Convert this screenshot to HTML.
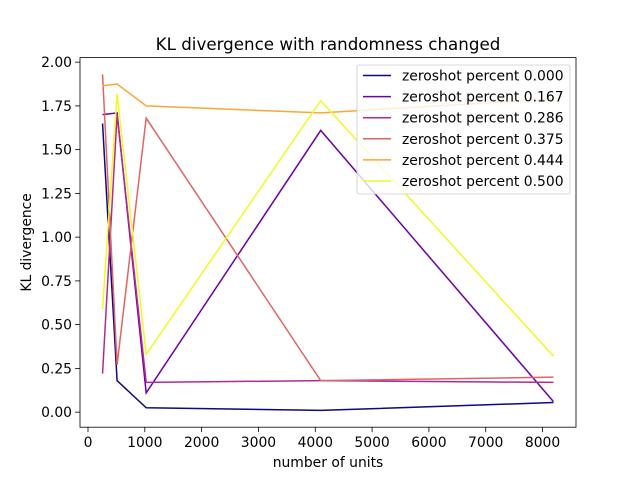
<!DOCTYPE html>
<html><head><meta charset="utf-8"><style>
body{margin:0;background:#fff;}
svg{display:block;font-family:"DejaVu Sans","Liberation Sans",sans-serif;}
</style></head><body>
<svg id="chart" width="640" height="480">
<rect x="0" y="0" width="640" height="480" fill="#fff"/>
<g id="plot"></g>
</svg>
<script>
const xValues = [256, 512, 1024, 4096, 8192];
const seriesNames = ["zeroshot percent 0.000","zeroshot percent 0.167","zeroshot percent 0.286","zeroshot percent 0.375","zeroshot percent 0.444","zeroshot percent 0.500"];
const s000 = [1.65, 0.18, 0.025, 0.01, 0.055];
const s167 = [1.70, 1.71, 0.11, 1.61, 0.06];
const s286 = [0.22, 1.70, 0.17, 0.18, 0.17];
const s375 = [1.93, 0.27, 1.68, 0.18, 0.20];
const s444 = [1.865, 1.875, 1.75, 1.71, 1.79];
const s500 = [0.59, 1.82, 0.33, 1.78, 0.32];
const xTicks = [0,1000,2000,3000,4000,5000,6000,7000,8000];
const yTicks = [0,0.25,0.5,0.75,1.0,1.25,1.5,1.75,2.0];

const series = [s000,s167,s286,s375,s444,s500];
const colors = ["#0d0887","#6a00a8","#b12a90","#e16462","#fca636","#f0f921"];
const L=80,R=576,T=57.6,B=427.2;
const allY=series.flat();
const ymin0=Math.min(...allY), ymax0=Math.max(...allY);
const xmin0=Math.min(...xValues), xmax0=Math.max(...xValues);
const xlo=xmin0-0.05*(xmax0-xmin0), xhi=xmax0+0.05*(xmax0-xmin0);
const ylo=ymin0-0.05*(ymax0-ymin0), yhi=ymax0+0.05*(ymax0-ymin0);
const sx=v=>L+(v-xlo)/(xhi-xlo)*(R-L);
const sy=v=>B-(v-ylo)/(yhi-ylo)*(B-T);
const NS="http://www.w3.org/2000/svg";
const g=document.getElementById('plot');
function mk(tag,attrs,parent){const e=document.createElementNS(NS,tag);for(const k in attrs)e.setAttribute(k,attrs[k]);(parent||g).appendChild(e);return e;}

series.forEach((s,i)=>{
  const p=mk('polyline',{points:s.map((v,j)=>sx(xValues[j])+','+sy(v)).join(' '),fill:'none',stroke:colors[i],'stroke-width':1.5});
  
  
});
const frame=mk('rect',{x:L,y:T,width:R-L,height:B-T,fill:'none',stroke:'#000','stroke-width':0.8});


xTicks.forEach(t=>{
  const x=sx(t);
  mk('line',{x1:x,x2:x,y1:B,y2:B+4.9,stroke:'#000','stroke-width':0.8});
  const tx=mk('text',{x:x,y:B+20,'text-anchor':'middle','font-size':13.9});
  tx.textContent=t;
  
  
});
yTicks.forEach(t=>{
  const y=sy(t);
  mk('line',{x1:L-4.9,x2:L,y1:y,y2:y,stroke:'#000','stroke-width':0.8});
  const tx=mk('text',{x:L-8,y:y+5,'text-anchor':'end','font-size':13.9});
  tx.textContent=t.toFixed(2);
  
  
});
const title=mk('text',{x:(L+R)/2,y:50,'text-anchor':'middle','font-size':16.7});
title.textContent='KL divergence with randomness changed';


const xl=mk('text',{x:(L+R)/2,y:467,'text-anchor':'middle','font-size':13.9});
xl.textContent='number of units';


const yl=mk('text',{x:31,y:(T+B)/2,'text-anchor':'middle','font-size':13.9,transform:'rotate(-90 31 '+((T+B)/2)+')'});
yl.textContent='KL divergence';


const lg=mk('g',{});


mk('rect',{x:357,y:65,width:213,height:129,rx:2,fill:'#fff','fill-opacity':0.8,stroke:'#ccc','stroke-width':0.8},lg);
seriesNames.forEach((n,i)=>{
  const y=75.5+i*21.1;
  mk('line',{x1:363,x2:391,y1:y,y2:y,stroke:colors[i],'stroke-width':1.5},lg);
  const t=mk('text',{x:402,y:y+5,'font-size':13.9},lg);
  t.textContent=n;
  
  
});
</script>
</body></html>
